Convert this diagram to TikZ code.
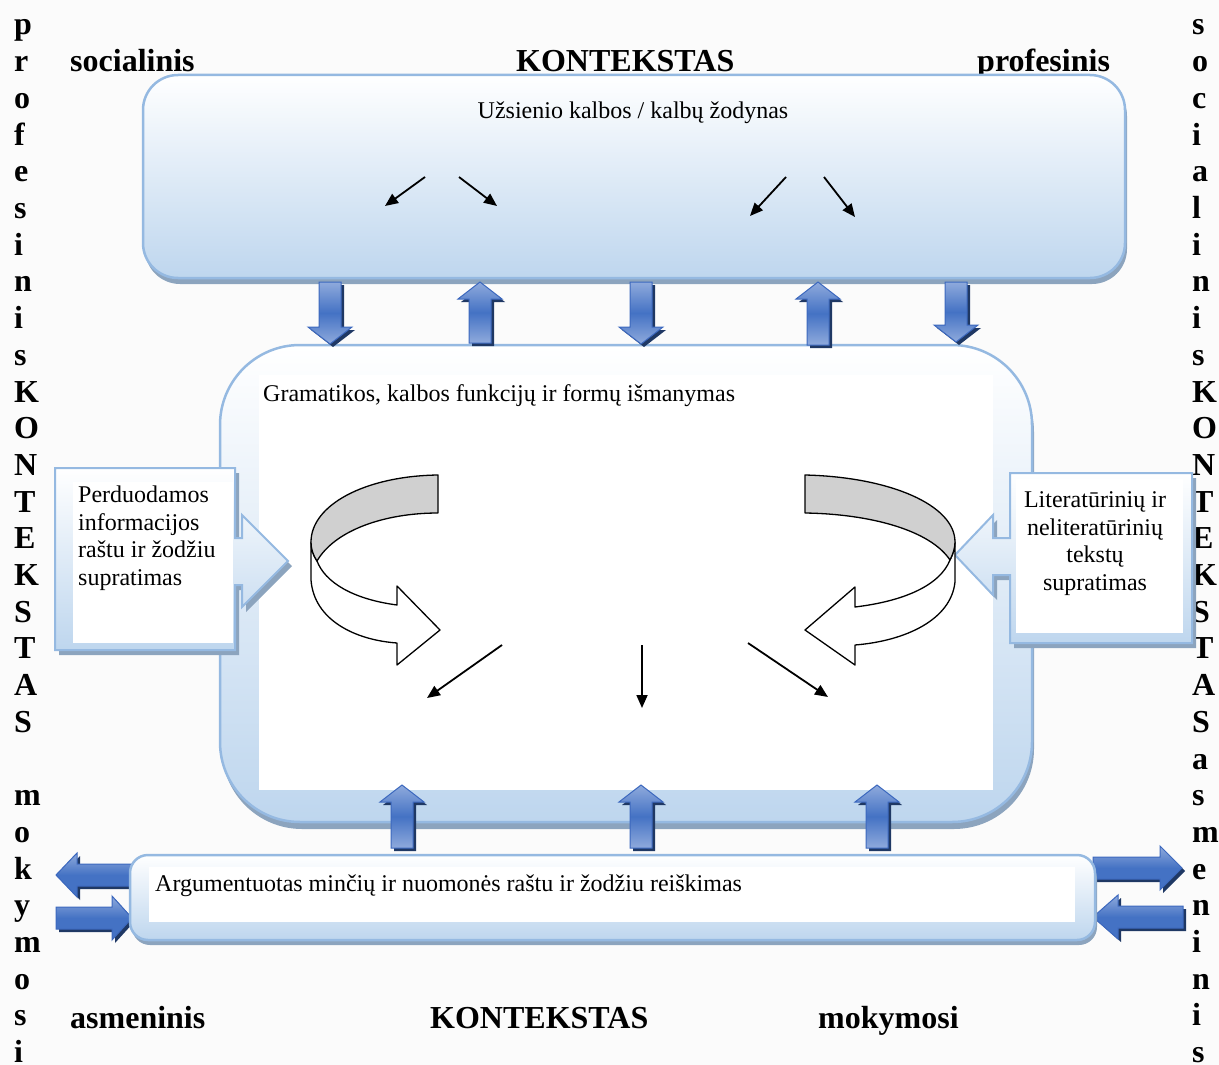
\documentclass[tikz,border=0pt]{standalone}
\usepackage{fontspec}
\setmainfont{Liberation Serif}
\usetikzlibrary{arrows.meta}

\definecolor{pagebg}{RGB}{251,251,251}
\definecolor{boxline}{RGB}{149,185,225}
\definecolor{boxblue}{RGB}{190,214,238}
\definecolor{boxshade}{RGB}{140,164,190}
\definecolor{blkmid}{RGB}{68,114,196}
\definecolor{blklight}{RGB}{143,170,220}
\definecolor{blkline}{RGB}{60,104,190}
\definecolor{blkshadow}{RGB}{31,56,100}
\definecolor{ribbongray}{RGB}{208,208,208}

\tikzset{
  panel/.style={draw=boxline, line width=2.5pt, top color=white, bottom color=boxblue},
  panelshadow/.style={fill=boxshade},
  blk/.style={draw=blkline, line width=1pt, line join=miter},
  blkv/.style={blk, top color=blklight, bottom color=blklight, middle color=blkmid},
  blkh/.style={blk, top color=blklight, bottom color=blkmid, middle color=blkmid},
  blksh/.style={fill=blkshadow},
  flowarrow/.style={line width=1.8pt, -{Triangle[length=13pt,width=11pt]}},
  ribbon/.style={draw=black, line width=1.3pt, line join=round},
  body/.style={font=\fontsize{24}{27.5}\selectfont, inner sep=0pt},
  ctx/.style={font=\bfseries\fontsize{32}{36.8}\selectfont, inner sep=0pt, anchor=base west},
}

% block arrow outlines (pixel units, y grows downwards)
\newcommand\dnpath[3]{({#1-11},#2) -- ({#1+11},#2) -- ({#1+11},{#3-17}) -- ({#1+22},{#3-17}) -- (#1,#3) -- ({#1-22},{#3-17}) -- ({#1-11},{#3-17}) -- cycle}
\newcommand\uppath[3]{(#1,#2) -- ({#1+22},{#2+17}) -- ({#1+11},{#2+17}) -- ({#1+11},#3) -- ({#1-11},#3) -- ({#1-11},{#2+17}) -- ({#1-22},{#2+17}) -- cycle}
\newcommand\lfpath[4]{(#1,#2) -- ({#1+#4},{#2-22}) -- ({#1+#4},{#2-11}) -- (#3,{#2-11}) -- (#3,{#2+11}) -- ({#1+#4},{#2+11}) -- ({#1+#4},{#2+22}) -- cycle}
\newcommand\rtpath[4]{(#1,#2) -- ({#1-#4},{#2-22}) -- ({#1-#4},{#2-11}) -- (#3,{#2-11}) -- (#3,{#2+11}) -- ({#1-#4},{#2+11}) -- ({#1-#4},{#2+22}) -- cycle}
\newcommand\blockdown[3]{\fill[blksh,shift={(3,3)}] \dnpath{#1}{#2}{#3}; \draw[blkv] \dnpath{#1}{#2}{#3};}
\newcommand\blockup[3]{\fill[blksh,shift={(3,3)}] \uppath{#1}{#2}{#3}; \draw[blkv] \uppath{#1}{#2}{#3};}
\newcommand\blockleft[4]{\fill[blksh,shift={(3,3)}] \lfpath{#1}{#2}{#3}{#4}; \draw[blkh] \lfpath{#1}{#2}{#3}{#4};}
\newcommand\blockright[4]{\fill[blksh,shift={(3,3)}] \rtpath{#1}{#2}{#3}{#4}; \draw[blkh] \rtpath{#1}{#2}{#3}{#4};}

\begin{document}
\begin{tikzpicture}[x=1pt, y=-1pt]
\useasboundingbox (0,0) rectangle (1219,1065);
\fill[pagebg] (0,0) rectangle (1219,1065);

% context labels around the frame
\node[ctx] (ctxsoc) at (70,71) {socialinis};
\node[ctx] (ctxtop) at (516,71) {KONTEKSTAS};
\node[ctx] (ctxprof) at (977,71) {profesinis};
\node[ctx] (ctxasm) at (70,1028) {asmeninis};
\node[ctx] (ctxbot) at (430,1028) {KONTEKSTAS};
\node[ctx] (ctxmok) at (818,1028) {mokymosi};
\foreach \c [count=\i from 0] in {p,r,o,f,e,s,i,n,i,s,K,O,N,T,E,K,S,T,A,S,{},m,o,k,y,m,o,s,i}
  \node[ctx] (lcol\i) at (14,{35+36.7*\i}) {\c};
\foreach \c [count=\i from 0] in {s,o,c,i,a,l,i,n,i,s,K,O,N,T,E,K,S,T,A,S,a,s,m,e,n,i,n,i,s}
  \node[ctx] (rcol\i) at (1192,{35+36.7*\i}) {\c};

% side arrows of the bottom panel
\blockleft{56}{875}{134}{21}
\blockright{132}{918}{56}{20}
\blockright{1182}{868}{1093}{22}
\blockleft{1093}{917}{1183}{25}

% top panel: vocabulary
\fill[panelshadow, rounded corners=35] (145,81) rectangle (1127,284);
\draw[panel, rounded corners=35] (143,75) rectangle (1125,278);
\node[body, anchor=base] (vocab) at (633,118) {Užsienio kalbos / kalbų žodynas};

% middle panel: grammar
\fill[panelshadow, rounded corners=80] (222,352) rectangle (1034,829);
\draw[panel, rounded corners=80] (220,345) rectangle (1032,822);
\fill[white] (259,375) rectangle (993,790);
\node[body, anchor=base west] (grammar) at (263,401) {Gramatikos, kalbos funkcijų ir formų išmanymas};

% bottom panel: expression
\fill[panelshadow, rounded corners=18] (132,861) rectangle (1097,945);
\draw[panel, rounded corners=18] (130,855) rectangle (1095,940);
\fill[white] (149,867) rectangle (1075,922);
\node[body, anchor=base west] (express) at (155,891) {Argumentuotas minčių ir nuomonės raštu ir žodžiu reiškimas};

% left callout
\fill[panelshadow, shift={(4,5)}] (55,468) -- (235,468) -- (235,538) -- (242,538) -- (242,515) -- (288,561) -- (242,607) -- (242,585) -- (235,585) -- (235,650) -- (55,650) -- cycle;
\draw[panel, line width=2pt] (55,468) -- (235,468) -- (235,538) -- (242,538) -- (242,515) -- (288,561) -- (242,607) -- (242,585) -- (235,585) -- (235,650) -- (55,650) -- cycle;
\fill[white] (73,482) rectangle (233,643);
\node[body, anchor=north west, align=left] (info) at (78,486) {Perduodamos\\informacijos\\raštu ir žodžiu\\supratimas};

% right callout
\fill[panelshadow, shift={(4,5)}] (1192,473) -- (1010,473) -- (1010,538) -- (993,538) -- (993,515) -- (955,555) -- (993,595) -- (993,575) -- (1010,575) -- (1010,643) -- (1192,643) -- cycle;
\draw[panel, line width=2pt] (1192,473) -- (1010,473) -- (1010,538) -- (993,538) -- (993,515) -- (955,555) -- (993,595) -- (993,575) -- (1010,575) -- (1010,643) -- (1192,643) -- cycle;
\fill[white] (1016,479) rectangle (1183,633);
\node[body, anchor=north, align=center] (texts) at (1095,491.5) {Literatūrinių ir\\neliteratūrinių\\tekstų\\supratimas};

% arrows between top and middle panels
\blockdown{330}{282}{344}
\blockup{480}{282}{343}
\blockdown{641}{282}{344}
\blockup{818}{282}{345}
\blockdown{956}{282}{342}

% arrows from bottom panel into middle panel
\blockup{402}{785}{848}
\blockup{641}{785}{848}
\blockup{877}{785}{848}

% curved ribbon arrow, left
\filldraw[ribbon, fill=white] (311,542) -- (311,580) .. controls (314,620) and (355,640) .. (397,643) -- (397,665) -- (440,630) -- (397,586) -- (397,605) .. controls (352,599) and (325,582) .. (317,561) .. controls (313,555) and (311,549) .. cycle;
\filldraw[ribbon, fill=ribbongray] (438,475) .. controls (365,476) and (311,505) .. (311,542) .. controls (311,549) and (313,555) .. (317,561) .. controls (335,530) and (385,513) .. (438,513) -- cycle;

% curved ribbon arrow, right
\filldraw[ribbon, fill=white] (955,542) -- (955,582) .. controls (951,620) and (905,641) .. (855,645) -- (855,665) -- (805,630) -- (855,587) -- (855,607) .. controls (905,601) and (940,585) .. (950,560) .. controls (953,554) and (955,548) .. cycle;
\filldraw[ribbon, fill=ribbongray] (805,475) .. controls (890,477) and (955,505) .. (955,542) .. controls (955,548) and (953,554) .. (950,560) .. controls (930,530) and (870,514) .. (805,513) -- cycle;

% thin flow arrows
\coordinate (va1) at (425,177); \coordinate (va2) at (385,206);
\coordinate (vb1) at (459,177); \coordinate (vb2) at (497,206);
\coordinate (vc1) at (786,177); \coordinate (vc2) at (750,216);
\coordinate (vd1) at (824,177); \coordinate (vd2) at (855,217);
\coordinate (ga1) at (502,645); \coordinate (ga2) at (427,698);
\coordinate (gb1) at (642,645); \coordinate (gb2) at (642,708);
\coordinate (gc1) at (748,643); \coordinate (gc2) at (828,697);
\draw[flowarrow] (va1) -- (va2);
\draw[flowarrow] (vb1) -- (vb2);
\draw[flowarrow] (vc1) -- (vc2);
\draw[flowarrow] (vd1) -- (vd2);
\draw[flowarrow] (ga1) -- (ga2);
\draw[flowarrow] (gb1) -- (gb2);
\draw[flowarrow] (gc1) -- (gc2);
\end{tikzpicture}
\end{document}
